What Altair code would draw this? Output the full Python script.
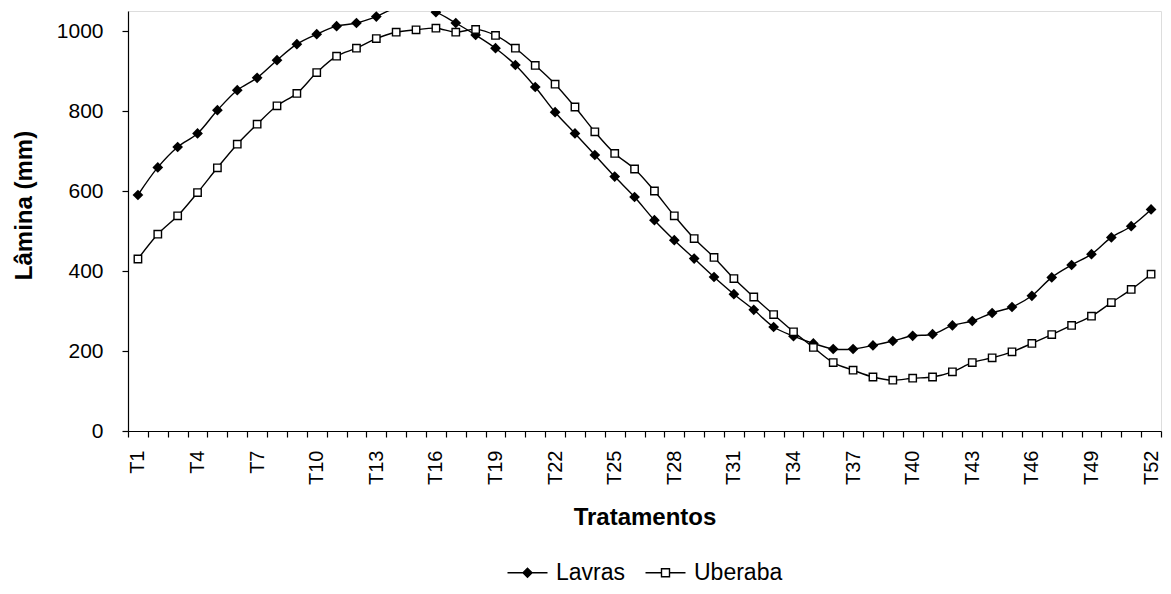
import altair as alt
import pandas as pd

tratamentos = [f"T{i}" for i in range(1, 53)]

lavras = [590, 659, 710, 744, 802, 852, 883, 927, 967, 992,
          1012, 1020, 1036, 1058, 1062, 1047, 1020, 990, 957, 915,
          860, 797, 744, 690, 636, 585, 527, 477, 431, 385,
          342, 303, 260, 237, 219, 205, 205, 214, 225, 238,
          242, 264, 275, 295, 310, 338, 384, 415, 442, 484,
          512, 554]

uberaba = [430, 492, 538, 596, 658, 717, 767, 813, 844, 896,
           937, 957, 981, 997, 1003, 1007, 997, 1004, 989, 957,
           914, 867, 810, 748, 694, 655, 600, 538, 481, 434,
           381, 335, 291, 248, 209, 171, 152, 135, 127, 132,
           135, 148, 171, 183, 198, 219, 241, 264, 287, 321,
           354, 392]

series = ["Lavras", "Uberaba"]
y_ticks = [0, 200, 400, 600, 800, 1000]
y_max = 1050

rows = []
for name, vals in zip(series, [lavras, uberaba]):
    for t, v in zip(tratamentos, vals):
        rows.append({"trat": t, "serie": name, "valor": v})
df = pd.DataFrame(rows)

FONT = "Liberation Sans"

x_enc = alt.X(
    "trat:N",
    sort=tratamentos,
    scale=alt.Scale(type="band", paddingInner=0, paddingOuter=0),
    axis=alt.Axis(
        title="Tratamentos",
        tickBand="extent",
        labelAngle=270,
        labelExpr="(toNumber(substring(datum.value, 1)) - 1) % 3 == 0 ? datum.value : ''",
        labelOverlap=False,
        labelFontSize=20,
        labelPadding=13,
        tickSize=6,
        titleFontSize=24,
        titleFontWeight="bold",
        titlePadding=21,
        grid=False,
    ),
)
y_enc = alt.Y(
    "valor:Q",
    scale=alt.Scale(domain=[0, y_max], nice=False),
    axis=alt.Axis(
        title="Lâmina (mm)",
        values=y_ticks,
        format="d",
        labelFontSize=21,
        labelPadding=19,
        tickSize=6,
        titleFontSize=24,
        titleFontWeight="bold",
        titleX=-104,
        titleY=194,
        titleAngle=270,
        titleAlign="center",
        titleBaseline="middle",
        grid=False,
    ),
)

base = alt.Chart(df)

lines = base.mark_line(
    color="black", strokeWidth=1.4, interpolate="catmull-rom", clip=True
).encode(x=x_enc, y=y_enc, detail="serie:N")

pts_lav = base.transform_filter(
    (alt.datum.serie == "Lavras") & (alt.datum.valor <= y_max)
).mark_point(
    shape="diamond", filled=True, color="black", size=115, opacity=1, clip=True
).encode(x=x_enc, y=y_enc)

pts_ube = base.transform_filter(
    (alt.datum.serie == "Uberaba") & (alt.datum.valor <= y_max)
).mark_point(
    shape="square", fill="white", stroke="black", strokeWidth=1.4,
    size=55, opacity=1, fillOpacity=1, clip=True
).encode(x=x_enc, y=y_enc)

path_lav = "M-1,0H3M0.55,0L1,-0.45L1.45,0L1,0.45Z"
path_ube = "M-1,0H0.6M1.4,0H3M0.6,-0.4H1.4V0.4H0.6Z"

leg_props = dict(
    orient="none", legendX=378, legendY=550, direction="horizontal",
    title=None, labelFontSize=23, labelFont=FONT, labelColor="black",
    symbolSize=400, symbolStrokeWidth=1.4, symbolStrokeColor="black",
    labelOffset=27, columnPadding=16, padding=0,
)

legend_layer = base.transform_filter("false").mark_point(
    filled=True, strokeWidth=1.4, opacity=1
).encode(
    shape=alt.Shape("serie:N", scale=alt.Scale(domain=series, range=[path_lav, path_ube]),
                    legend=alt.Legend(**leg_props)),
    fill=alt.Fill("serie:N", scale=alt.Scale(domain=series, range=["black", "white"]),
                  legend=alt.Legend(**leg_props)),
    stroke=alt.Stroke("serie:N", scale=alt.Scale(domain=series, range=["black", "black"]),
                      legend=alt.Legend(**leg_props)),
)

chart = alt.layer(lines, pts_lav, pts_ube, legend_layer).properties(
    width=1033, height=420,
    padding={"left": 120, "top": 3, "right": 2, "bottom": 155},
    autosize=alt.AutoSizeParams(type="none"),
).configure_view(stroke=None).configure(
    font=FONT, background="white"
).configure_axis(
    domainColor="black", tickColor="black", labelColor="black", titleColor="black",
    labelFont=FONT, titleFont=FONT, domainWidth=1.2, tickWidth=1.2,
)

chart.save("out.html", embed_options={"renderer": "svg", "actions": False})
